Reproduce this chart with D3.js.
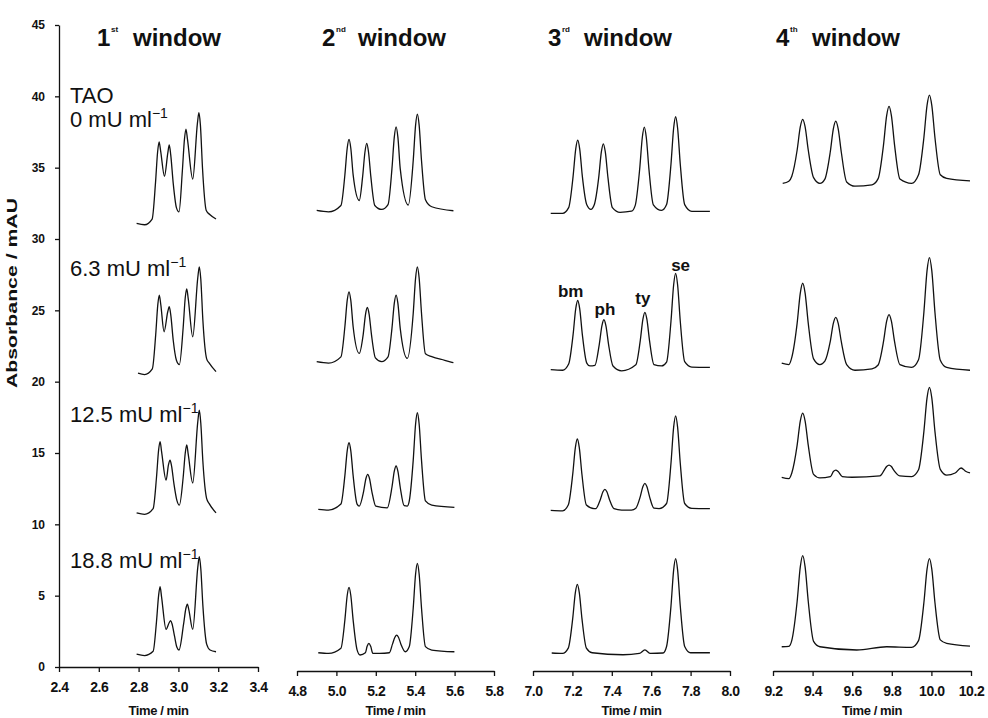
<!DOCTYPE html>
<html>
<head>
<meta charset="utf-8">
<script src="https://cdn.jsdelivr.net/npm/d3@7"></script>
<style>
body{margin:0;background:#fff}
text{font-family:"Liberation Sans",Arial,sans-serif;fill:#111}
</style>
</head>
<body>
<div id="chart"></div>
<script>
// enzyme concentrations (one trace per row) and window info
var concLabels = ["0", "6.3", "12.5", "18.8"]
var windowNum = ["1", "2", "3", "4"]
var windowSup = ["st", "nd", "rd", "th"]
var windowDomains = [[2.4, 3.4], [4.8, 5.8], [7.0, 8.0], [9.2, 10.2]]
var windowTicks = [
	[2.4, 2.6, 2.8, 3.0, 3.2, 3.4],
	[4.8, 5.0, 5.2, 5.4, 5.6, 5.8],
	[7.0, 7.2, 7.4, 7.6, 7.8, 8.0],
	[9.2, 9.4, 9.6, 9.8, 10.0, 10.2]
]
var yTicks = [0, 5, 10, 15, 20, 25, 30, 35, 40, 45]
var peakNames = ["bm", "ph", "ty", "se"]

// traces: [time (min), absorbance (mAU)]
var w1r1 = [[2.79,31.1],[2.83,31.0],[2.868,31.4],[2.885,33.95],[2.8955,36.1],[2.903,36.8],[2.9105,36.2],[2.93,34.4],[2.9465,36.0],[2.954,36.6],[2.9615,35.9],[2.974,33.9],[2.99,32.2],[3.003,31.9],[3.02,34.8],[3.0305,37.0],[3.038,37.7],[3.0455,37.0],[3.072,34.2],[3.0955,38.1],[3.103,38.85],[3.1105,38.0],[3.121,35.0],[3.14,32.0],[3.159,31.7],[3.189,31.4]]
var w1r2 = [[2.797,20.6],[2.83,20.5],[2.869,20.9],[2.886,23.3],[2.8965,25.4],[2.904,26.07],[2.9115,25.4],[2.928,23.5],[2.9465,24.9],[2.954,25.25],[2.9615,24.7],[2.974,22.9],[2.99,21.5],[3.005,21.2],[3.024,23.8],[3.0345,25.9],[3.042,26.5],[3.0495,25.8],[3.072,23.15],[3.0975,27.3],[3.105,28.05],[3.1125,27.2],[3.123,24.3],[3.142,21.6],[3.155,21.3],[3.189,20.7]]
var w1r3 = [[2.79,10.8],[2.83,10.7],[2.873,11.1],[2.89,13.3],[2.9005,15.2],[2.908,15.8],[2.9155,15.1],[2.938,13.1],[2.9505,14.2],[2.958,14.5],[2.9655,14.1],[2.978,12.8],[2.992,11.7],[3.005,11.35],[3.024,13.3],[3.0345,15.0],[3.042,15.56],[3.0495,14.9],[3.072,12.9],[3.0975,17.2],[3.105,18.0],[3.1125,17.1],[3.123,14.4],[3.142,11.8],[3.154,11.47],[3.189,10.8]]
var w1r4 = [[2.79,0.9],[2.83,0.8],[2.873,1.1],[2.89,3.2],[2.9005,5.0],[2.908,5.63],[2.9155,4.9],[2.938,2.64],[2.9535,3.1],[2.961,3.25],[2.9685,3.0],[2.98,2.2],[2.992,1.4],[3.003,1.19],[3.026,3.0],[3.0375,4.1],[3.045,4.41],[3.0525,4.0],[3.072,2.64],[3.0975,7.0],[3.105,7.73],[3.1125,6.9],[3.123,4.3],[3.142,1.6],[3.159,1.19],[3.189,1.07]]

var w2r1 = [[4.9,32.0],[4.96,31.9],[5.023,32.35],[5.043,34.49],[5.055,36.38],[5.064,36.98],[5.073,36.38],[5.085,34.49],[5.116,32.7],[5.133,34.35],[5.145,36.1],[5.154,36.7],[5.163,36.1],[5.175,34.35],[5.195,32.35],[5.23,32.07],[5.262,32.41],[5.282,34.93],[5.294,37.16],[5.303,37.86],[5.312,37.16],[5.324,34.93],[5.365,32.38],[5.39,35.5],[5.402,37.98],[5.411,38.75],[5.42,37.98],[5.432,35.5],[5.452,32.75],[5.484,32.26],[5.594,31.98]]
var w2r2 = [[4.9,21.4],[4.96,21.3],[5.023,21.74],[5.043,23.85],[5.055,25.71],[5.064,26.3],[5.073,25.71],[5.085,23.85],[5.116,21.98],[5.136,23.3],[5.148,24.74],[5.157,25.2],[5.166,24.74],[5.178,23.3],[5.198,21.67],[5.23,21.4],[5.262,21.73],[5.282,23.74],[5.294,25.51],[5.303,26.07],[5.312,25.51],[5.324,23.74],[5.36,21.63],[5.39,24.8],[5.402,27.27],[5.411,28.05],[5.42,27.27],[5.432,24.8],[5.452,21.95],[5.484,21.75],[5.55,21.5],[5.594,21.33]]
var w2r3 = [[4.908,11.05],[4.96,11.0],[5.023,11.42],[5.043,13.41],[5.055,15.17],[5.064,15.72],[5.073,15.17],[5.085,13.41],[5.105,11.42],[5.116,11.28],[5.138,12.3],[5.15,13.21],[5.159,13.5],[5.168,13.21],[5.18,12.3],[5.2,11.27],[5.258,11.15],[5.282,12.6],[5.294,13.73],[5.303,14.09],[5.312,13.73],[5.324,12.6],[5.344,11.31],[5.36,11.28],[5.37,11.64],[5.39,14.5],[5.402,17.03],[5.411,17.82],[5.42,17.03],[5.432,14.5],[5.452,11.64],[5.484,11.35],[5.599,11.19]]
var w2r4 = [[4.908,1.0],[4.96,0.95],[5.023,1.32],[5.043,3.29],[5.055,5.03],[5.064,5.58],[5.073,5.03],[5.085,3.29],[5.105,1.2],[5.12,0.84],[5.147,1.0],[5.156,1.45],[5.165,1.66],[5.174,1.45],[5.185,0.95],[5.22,0.95],[5.269,1.0],[5.285,1.62],[5.297,2.09],[5.306,2.24],[5.315,2.09],[5.327,1.62],[5.35,1.07],[5.37,1.43],[5.39,4.14],[5.402,6.52],[5.411,7.27],[5.42,6.52],[5.432,4.14],[5.452,1.43],[5.484,1.19],[5.599,1.07]]

var w3r1 = [[7.09,31.8],[7.15,31.8],[7.181,32.2],[7.2035,34.39],[7.217,36.32],[7.227,36.93],[7.237,36.32],[7.2505,34.39],[7.273,32.4],[7.294,32.08],[7.311,32.4],[7.3335,34.3],[7.347,36.1],[7.357,36.67],[7.367,36.1],[7.3805,34.3],[7.403,32.2],[7.442,31.87],[7.5,31.95],[7.519,32.36],[7.5415,34.9],[7.555,37.13],[7.565,37.84],[7.575,37.13],[7.5885,34.9],[7.611,32.4],[7.653,32.0],[7.678,32.41],[7.7005,35.26],[7.714,37.78],[7.724,38.57],[7.734,37.78],[7.7475,35.26],[7.77,32.41],[7.806,31.94],[7.898,31.94]]
var w3r2 = [[7.09,20.84],[7.15,20.8],[7.181,21.24],[7.2035,23.3],[7.217,25.12],[7.227,25.69],[7.237,25.12],[7.2505,23.3],[7.273,21.3],[7.289,21.1],[7.314,21.14],[7.3365,22.62],[7.35,23.93],[7.36,24.34],[7.37,23.93],[7.3835,22.62],[7.406,21.1],[7.45,20.76],[7.522,21.18],[7.5445,22.88],[7.558,24.38],[7.568,24.86],[7.578,24.38],[7.5915,22.88],[7.614,21.2],[7.653,21.1],[7.678,21.37],[7.7005,24.25],[7.714,26.79],[7.724,27.59],[7.734,26.79],[7.7475,24.25],[7.77,21.4],[7.806,21.02],[7.898,21.0]]
var w3r3 = [[7.09,10.98],[7.15,10.95],[7.179,11.35],[7.2015,13.49],[7.215,15.38],[7.225,15.98],[7.235,15.38],[7.2485,13.49],[7.271,11.35],[7.31,11.1],[7.319,11.1],[7.3415,11.73],[7.355,12.28],[7.365,12.45],[7.375,12.28],[7.3885,11.73],[7.411,11.1],[7.45,11.0],[7.5,11.0],[7.522,11.13],[7.5445,11.94],[7.558,12.65],[7.568,12.87],[7.578,12.65],[7.5915,11.94],[7.614,11.13],[7.64,11.1],[7.678,11.46],[7.7005,14.3],[7.714,16.81],[7.724,17.6],[7.734,16.81],[7.7475,14.3],[7.77,11.46],[7.806,11.12],[7.898,11.1]]
var w3r4 = [[7.095,0.98],[7.15,0.95],[7.179,1.32],[7.2015,3.39],[7.215,5.21],[7.225,5.79],[7.235,5.21],[7.2485,3.39],[7.271,1.32],[7.3,1.0],[7.457,0.86],[7.54,0.95],[7.568,1.2],[7.596,0.95],[7.66,0.98],[7.678,1.44],[7.7005,4.29],[7.714,6.81],[7.724,7.6],[7.734,6.81],[7.7475,4.29],[7.77,1.44],[7.8,1.0],[7.898,1.0]]

var w4r1 = [[9.249,33.9],[9.28,34.05],[9.295,34.4],[9.322,36.24],[9.338,37.87],[9.35,38.38],[9.362,37.87],[9.378,36.24],[9.405,34.3],[9.437,33.9],[9.462,34.2],[9.489,36.08],[9.505,37.74],[9.517,38.26],[9.529,37.74],[9.545,36.08],[9.572,34.0],[9.614,33.7],[9.7,33.8],[9.731,34.23],[9.758,36.58],[9.774,38.65],[9.786,39.3],[9.798,38.65],[9.814,36.58],[9.841,34.2],[9.9,33.9],[9.935,34.5],[9.962,37.1],[9.978,39.36],[9.99,40.08],[10.002,39.36],[10.018,37.1],[10.045,34.5],[10.077,34.25],[10.195,34.08]]
var w4r2 = [[9.244,21.3],[9.28,21.2],[9.295,21.7],[9.322,24.1],[9.338,26.23],[9.35,26.9],[9.362,26.23],[9.378,24.1],[9.405,21.6],[9.437,21.2],[9.462,21.44],[9.489,22.8],[9.505,24.1],[9.517,24.5],[9.529,24.1],[9.545,22.8],[9.572,21.2],[9.614,20.8],[9.7,20.9],[9.731,21.17],[9.758,22.8],[9.774,24.24],[9.786,24.7],[9.798,24.24],[9.814,22.8],[9.841,21.2],[9.9,21.0],[9.935,21.54],[9.962,24.85],[9.978,27.78],[9.99,28.7],[10.002,27.78],[10.018,24.85],[10.045,21.5],[10.077,21.0],[10.195,20.8]]
var w4r3 = [[9.244,13.3],[9.28,13.2],[9.295,13.6],[9.322,15.55],[9.338,17.26],[9.35,17.8],[9.362,17.26],[9.378,15.55],[9.405,13.5],[9.437,13.25],[9.49,13.35],[9.505,13.7],[9.517,13.8],[9.529,13.7],[9.55,13.35],[9.6,13.3],[9.74,13.4],[9.762,13.8],[9.774,14.05],[9.786,14.15],[9.798,14.05],[9.81,13.8],[9.84,13.4],[9.9,13.35],[9.935,13.83],[9.962,16.5],[9.978,18.86],[9.99,19.6],[10.002,18.86],[10.018,16.5],[10.045,13.85],[10.077,13.45],[10.12,13.6],[10.15,13.95],[10.175,13.7],[10.195,13.6]]
var w4r4 = [[9.244,1.42],[9.28,1.45],[9.295,1.87],[9.322,4.61],[9.338,7.03],[9.35,7.8],[9.362,7.03],[9.378,4.61],[9.405,1.8],[9.437,1.42],[9.623,1.19],[9.774,1.42],[9.9,1.38],[9.935,1.85],[9.962,4.5],[9.978,6.86],[9.99,7.6],[10.002,6.86],[10.018,4.5],[10.045,1.9],[10.077,1.66],[10.195,1.47]]

// peaks that get a name (3rd window, 6.3 mU ml-1 trace): [time, absorbance]
var peakApex = [[7.227,25.69],[7.36,24.34],[7.568,24.86],[7.724,27.59]]

var traces = [
	[w1r1, w1r2, w1r3, w1r4],
	[w2r1, w2r2, w2r3, w2r4],
	[w3r1, w3r2, w3r3, w3r4],
	[w4r1, w4r2, w4r3, w4r4]
]

var width = 988
var height = 718
var panelX = [[59,258],[297,494],[533,730],[773,971]]
var axisShift = [0,4,4,4]
var titleX = [97,322,548,776]
var labelBase = [127,276,422,568]
var peakOffset = [[-7,-3],[1,-5],[-2,-8],[5,-2]]

var svg = d3.select("#chart").append("svg").attr("width",width).attr("height",height)

var y = d3.scaleLinear().domain([0,45]).range([667,25])

traces.forEach(function(rows,i){
	var x = d3.scaleLinear().domain(windowDomains[i]).range(panelX[i])
	var line = d3.line()
		.x(function(d){return x(d[0])})
		.y(function(d){return y(d[1])})
		.curve(d3.curveMonotoneX)

	rows.forEach(function(r){
		svg.append("path").attr("d",line(r))
			.attr("fill","none").attr("stroke","#111")
			.attr("stroke-width",1.3).attr("stroke-linejoin","round")
	})

	var ax = svg.append("g")
		.attr("transform","translate(0,"+(y(0)+axisShift[i])+")")
		.call(d3.axisBottom(x).tickValues(windowTicks[i]).tickSize(5).tickSizeOuter(0)
			.tickPadding(10).tickFormat(d3.format(".1f")))
	ax.selectAll("path,line").attr("stroke","#111").attr("stroke-width",1.3)
	ax.selectAll("text").style("font-size","14px").style("font-weight","bold")
		.style("letter-spacing","-0.4px").attr("fill","#111")

	svg.append("text").text("Time / min")
		.attr("x",(panelX[i][0]+panelX[i][1])/2).attr("y",715)
		.attr("text-anchor","middle").style("font-size","13px").style("font-weight","bold")
		.style("letter-spacing","-0.4px")

	// window title
	var t = svg.append("text").attr("y",46).style("font-size","24px").style("font-weight","bold")
	t.append("tspan").attr("x",titleX[i]).text(windowNum[i])
	t.append("tspan").attr("x",titleX[i]+14).attr("y",32).style("font-size","8px").text(windowSup[i])
	t.append("tspan").attr("x",titleX[i]+36).attr("y",46).text("window")
})

// y axis
var yAx = svg.append("g").attr("transform","translate(59,0)")
	.call(d3.axisLeft(y).tickValues(yTicks).tickSize(4).tickSizeOuter(0).tickPadding(10))
yAx.selectAll("path,line").attr("stroke","#111").attr("stroke-width",1.3)
yAx.selectAll("text").style("font-size","12px").style("font-weight","bold").attr("fill","#111")

svg.append("text").text("Absorbance / mAU")
	.attr("transform","translate(17,293) rotate(-90)")
	.attr("text-anchor","middle").attr("textLength",190).attr("lengthAdjust","spacingAndGlyphs")
	.style("font-size","14px").style("font-weight","bold")

// concentration labels
svg.append("text").text("TAO").attr("x",70).attr("y",103).style("font-size","22px")
concLabels.forEach(function(c,i){
	var t = svg.append("text").attr("x",70).attr("y",labelBase[i]).style("font-size","22px")
	t.append("tspan").text(c+" mU ml")
	t.append("tspan").attr("dy",-9).style("font-size","14px").text("\u22121")
})

// peak names
var x3 = d3.scaleLinear().domain(windowDomains[2]).range(panelX[2])
peakNames.forEach(function(p,i){
	svg.append("text").text(p)
		.attr("x",x3(peakApex[i][0])+peakOffset[i][0])
		.attr("y",y(peakApex[i][1])+peakOffset[i][1])
		.attr("text-anchor","middle")
		.style("font-size","17px").style("font-weight","bold")
})
</script>
</body>
</html>
